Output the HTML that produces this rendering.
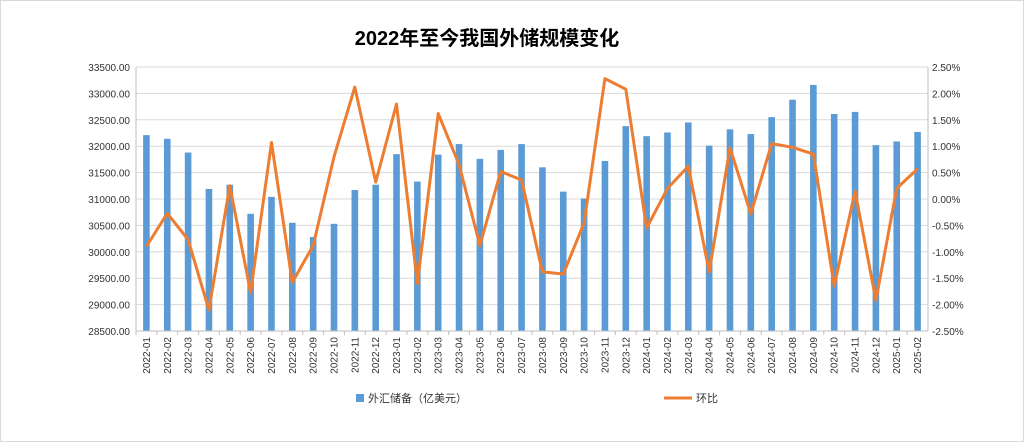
<!DOCTYPE html>
<html><head><meta charset="utf-8"><style>
body{margin:0;background:#fff;}
svg text{font-family:"Liberation Sans","Noto Sans CJK SC",sans-serif;}
</style></head><body>
<svg width="1024" height="442">
<rect x="0.5" y="0.5" width="1023" height="441" fill="#fff" stroke="#d9d9d9"/>
<text x="487" y="45" text-anchor="middle" font-size="20" font-weight="bold" fill="#000">2022年至今我国外储规模变化</text>
<g id="grid"></g><g id="bars"></g><g id="line"></g><g id="axes"></g>
<g>
<rect x="356" y="394" width="8" height="8" fill="#5b9bd5"/>
<text x="368" y="402" font-size="11" fill="#333">外汇储备（亿美元）</text>
<line x1="664" y1="398" x2="692" y2="398" stroke="#ed7d31" stroke-width="3"/>
<text x="696" y="402" font-size="11" fill="#333">环比</text>
</g>
</svg>
<script>
const categories=["2022-01","2022-02","2022-03","2022-04","2022-05","2022-06","2022-07","2022-08","2022-09","2022-10","2022-11","2022-12","2023-01","2023-02","2023-03","2023-04","2023-05","2023-06","2023-07","2023-08","2023-09","2023-10","2023-11","2023-12","2024-01","2024-02","2024-03","2024-04","2024-05","2024-06","2024-07","2024-08","2024-09","2024-10","2024-11","2024-12","2025-01","2025-02"];
const reserves=[32210,32140,31880,31190,31270,30720,31040,30550,30280,30530,31170,31270,31850,31330,31840,32040,31760,31930,32040,31600,31140,31010,31720,32380,32190,32260,32450,32010,32320,32230,32550,32880,33160,32610,32650,32020,32090,32270];
const mom=[-0.9,-0.27,-0.77,-2.1,0.25,-1.77,1.07,-1.58,-0.88,0.8,2.12,0.32,1.8,-1.6,1.62,0.65,-0.88,0.52,0.36,-1.38,-1.42,-0.45,2.28,2.08,-0.55,0.2,0.62,-1.38,0.97,-0.28,1.05,0.98,0.85,-1.65,0.15,-1.92,0.2,0.57];
const leftTicks=[28500,29000,29500,30000,30500,31000,31500,32000,32500,33000,33500];
const rightTicks=[-2.5,-2,-1.5,-1,-0.5,0,0.5,1,1.5,2,2.5];
const NS="http://www.w3.org/2000/svg";
const X0=136,X1=928,YT=67,YB=331;
const step=(X1-X0)/categories.length;
const xc=i=>X0+step*(i+0.5);
const yL=v=>YB-(v-28500)/5000*(YB-YT);
const yR=v=>YB-(v+2.5)/5*(YB-YT);
function mk(tag,attrs,parent){const e=document.createElementNS(NS,tag);for(const k in attrs)e.setAttribute(k,attrs[k]);document.getElementById(parent).appendChild(e);return e;}
leftTicks.forEach((t,i)=>{
 const y=yL(t);
 const g=mk('line',{x1:X0,x2:X1,y1:y,y2:y,stroke:'#d9d9d9','stroke-width':1},'grid');
 
 
 const tx=mk('text',{x:X0-6,y:y+4,'text-anchor':'end','font-size':10,fill:'#333'},'axes');
 tx.textContent=t.toFixed(2);
 
 
});
rightTicks.forEach(t=>{
 const y=yR(t);
 const tx=mk('text',{x:X1+4,y:y+4,'font-size':10,fill:'#333'},'axes');
 tx.textContent=t.toFixed(2)+'%';
 
 
});
let a=mk('line',{x1:X0,x2:X0,y1:YT,y2:YB,stroke:'#bfbfbf'},'axes');


a=mk('line',{x1:X1,x2:X1,y1:YT,y2:YB,stroke:'#bfbfbf'},'axes');


a=mk('line',{x1:X0,x2:X1,y1:YB,y2:YB,stroke:'#bfbfbf'},'axes');


categories.forEach((c,i)=>{
 const tk=mk('line',{x1:X0+step*i,x2:X0+step*i,y1:YB,y2:YB+4,stroke:'#bfbfbf'},'axes');
 
 
 const x=xc(i);
 const tx=mk('text',{x:0,y:0,'text-anchor':'end','font-size':10,fill:'#333',transform:`translate(${x+3.5},${YB+6}) rotate(-90)`},'axes');
 tx.textContent=c;
 
 
 const y=yL(reserves[i]);
 const b=mk('rect',{x:x-3.3,y:y,width:6.6,height:YB-y,fill:'#5b9bd5'},'bars');
 
 
});
const pts=mom.map((v,i)=>xc(i).toFixed(1)+','+yR(v).toFixed(1)).join(' ');
const pl=mk('polyline',{points:pts,fill:'none',stroke:'#ed7d31','stroke-width':3,'stroke-linejoin':'round'},'line');


</script>
</body></html>
